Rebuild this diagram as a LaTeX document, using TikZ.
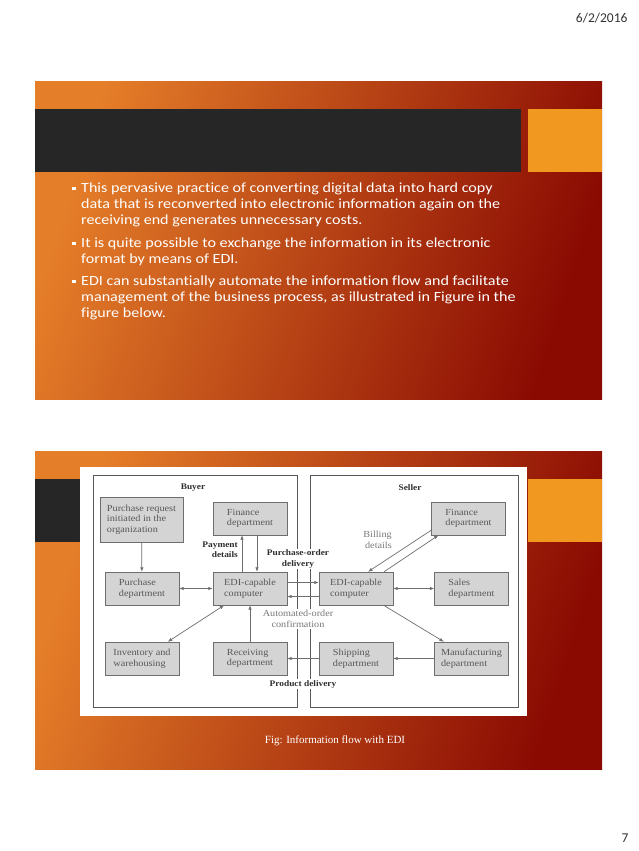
\documentclass[tikz,border=0pt]{standalone}
\usepackage{xcolor}
\usepackage{fontspec}
\setmainfont{Liberation Serif}
\newfontfamily\slidefont[FakeStretch=1.15, Ligatures=NoCommon]{Carlito}
\newfontfamily\datefont{Carlito}
\newfontfamily\figfont[FakeStretch=1.1]{Liberation Serif}
\usepackage{tikz}
\usetikzlibrary{arrows.meta, positioning}

\definecolor{slorange}{HTML}{E57E29}
\definecolor{slmid}{HTML}{C5421A}
\definecolor{slred}{HTML}{8A0A02}
\definecolor{bardark}{HTML}{262626}
\definecolor{tab}{HTML}{F09820}
\definecolor{figbox}{HTML}{D4D4D4}
\definecolor{figline}{HTML}{6E6E6E}
\definecolor{figtext}{HTML}{575757}
\definecolor{figdark}{HTML}{2E2E2E}

\newcommand{\sqb}{\makebox[9pt][l]{\rule[2.5pt]{3.5pt}{3.5pt}}}
\newcommand{\ind}{\hspace*{9pt}}

\begin{document}
\begin{tikzpicture}[
    x=1pt, y=-1pt,
    slide/.style={left color=slorange, middle color=slmid, right color=slred, shading angle=72},
    para/.style={font=\slidefont\fontsize{14}{16}\selectfont, text=white,
                 align=left, inner sep=0pt, anchor=north west},
    dept/.style={draw=figline, fill=figbox, minimum width=74pt, minimum height=33pt,
                 inner sep=2pt, font=\figfont\fontsize{9.3}{10.7}\selectfont,
                 align=left, text=figtext},
    lbl/.style={font=\figfont\bfseries\fontsize{8.5}{10.5}\selectfont, align=center,
                text=figdark, fill=white, inner sep=1pt},
    note/.style={font=\figfont\fontsize{9.3}{10.5}\selectfont, align=center,
                 text=figtext!80, fill=white, inner sep=1pt},
    flow/.style={-{Latex[length=4.5pt,width=3.5pt]}, figline, line width=0.7pt},
    both/.style={{Latex[length=4.5pt,width=3.5pt]}-{Latex[length=4.5pt,width=3.5pt]},
                 figline, line width=0.7pt}
]
\useasboundingbox (0,0) rectangle (638,851);

% Page header and footer
\node[font=\datefont\fontsize{13.5}{16}\selectfont, text=black!80, anchor=east] (date) at (631,18) {6/2/2016};
\node[font=\datefont\fontsize{13.5}{16}\selectfont, text=black!80] (page) at (625,838) {7};

% First slide
\shade[slide] (35,81) rectangle (602,399);
\fill[bardark] (35,109) rectangle (521,172);
\fill[tab] (528,109) rectangle (602,172);

\node[para] (p1) at (72,183) {\sqb This pervasive practice of converting digital data into hard copy\\
  \ind data that is reconverted into electronic information again on the\\
  \ind receiving end generates unnecessary costs.};
\node[para] (p2) at (72,238) {\sqb It is quite possible to exchange the information in its electronic\\
  \ind format by means of EDI.};
\node[para] (p3) at (72,276) {\sqb EDI can substantially automate the information flow and facilitate\\
  \ind management of the business process, as illustrated in Figure in the\\
  \ind figure below.};

% Second slide
\shade[slide] (35,451) rectangle (602,769);
\fill[bardark] (35,479) rectangle (521,542);
\fill[tab] (528,479) rectangle (602,542);
\fill[white] (80,467) rectangle (527,716);
\draw[figline!80!black, line width=1pt] (93,475) rectangle (297,707);
\draw[figline!80!black, line width=1pt] (310,475) rectangle (518,707);

\node[font=\fontsize{11}{13}\selectfont, text=white] (cap) at (335,741) {Fig: Information flow with EDI};

% Buyer side
\node[lbl] (buyer) at (193,488) {Buyer};
\node[dept, minimum width=83pt, minimum height=45pt] (preq) at (141.5,519.5) {Purchase request\\initiated in the\\organization};
\node[dept] (bfin) at (250,518.5) {Finance\\department};
\node[dept] (pur) at (142,588.5) {Purchase\\department};
\node[dept] (bedi) at (250,588.5) {EDI-capable\\computer};
\node[dept] (inv) at (142,658.5) {Inventory and\\warehousing};
\node[dept] (rcv) at (250,658.5) {Receiving\\department};

% Seller side
\node[lbl] (seller) at (410,488) {Seller};
\node[dept] (sfin) at (468.5,518.5) {Finance\\department};
\node[dept] (sedi) at (356,588.5) {EDI-capable\\computer};
\node[dept] (sal) at (471.5,588.5) {Sales\\department};
\node[dept] (shp) at (356,658.5) {Shipping\\department};
\node[dept] (mfg) at (471.5,658.5) {Manufacturing\\department};

% Labels
\node[lbl, align=right, anchor=east] (pay) at (239,550) {Payment\\details};
\node[lbl] (pod) at (298,559) {Purchase-order\\delivery};
\node[note] (aoc) at (298,619) {Automated-order\\confirmation};
\node[lbl] (prd) at (303,684) {Product delivery};
\node[note, align=right, anchor=east] (bill) at (393,540) {Billing\\details};

% Flows
\draw[flow] (preq) -- (pur);
\draw[both] (pur) -- (bedi);
\draw[flow] ([xshift=-8pt]bedi.north) -- ([xshift=-8pt]bfin.south);
\draw[flow] ([xshift=7pt]bfin.south) -- ([xshift=7pt]bedi.north);
\draw[both] (bedi) -- (inv);
\draw[flow] (rcv) -- (bedi);
\draw[flow] ([yshift=6pt]bedi.east) -- ([yshift=6pt]sedi.west);
\draw[flow] ([yshift=-8pt]sedi.west) -- ([yshift=-8pt]bedi.east);
\draw[flow] ([xshift=28pt]sedi.north) -- ([xshift=-30pt]sfin.south);
\draw[flow] ([yshift=5pt]sfin.south west) -- ([xshift=12pt]sedi.north);
\draw[both] (sedi) -- (sal);
\draw[flow] (sedi) -- (mfg);
\draw[flow] (mfg) -- (shp);
\draw[flow] (shp) -- (rcv);
\end{tikzpicture}
\end{document}
